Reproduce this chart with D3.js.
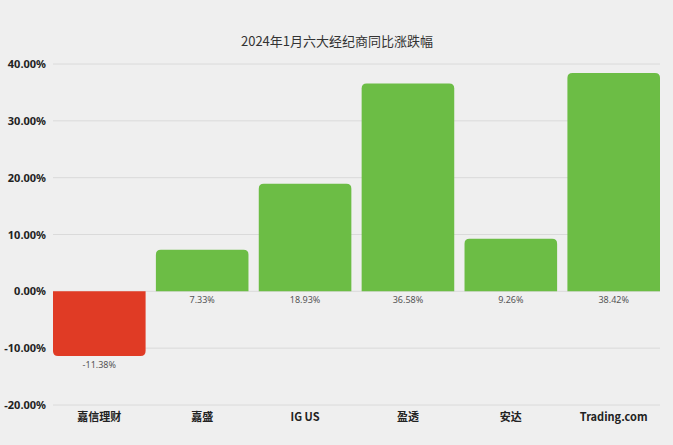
<!DOCTYPE html>
<html><head><meta charset="utf-8">
<script src="https://cdn.jsdelivr.net/npm/d3@7"></script>
<style>
html,body{margin:0;padding:0;background:#efefef;}
svg{display:block;font-family:"Noto Sans CJK SC","Noto Sans",sans-serif;}
</style></head>
<body>
<svg id="chart" width="673" height="445"></svg>
<script>
const title = "2024年1月六大经纪商同比涨跌幅";
const categories = ["嘉信理财", "嘉盛", "IG US", "盈透", "安达", "Trading.com"];
const values = [-11.38, 7.33, 18.93, 36.58, 9.26, 38.42];
const yTicks = [-20, -10, 0, 10, 20, 30, 40];

const svg = d3.select("#chart");
const W = 673, H = 445;
svg.append("rect").attr("width", W).attr("height", H).attr("fill", "#efefef");

const x = d3.scaleBand().domain(categories).range([53, 660]).paddingInner(0.1).paddingOuter(0);
const y = d3.scaleLinear().domain([-20, 40]).range([405, 64]);
const pct = d => d3.format(".2f")(d).replace("\u2212", "-") + "%";

svg.append("text").attr("x", 337).attr("y", 46).attr("text-anchor", "middle")
  .attr("font-size", 13).attr("fill", "#333").text(title);

// grid
svg.append("g").selectAll("line").data(yTicks).join("line")
  .attr("x1", 53).attr("x2", 660)
  .attr("y1", d => y(d)).attr("y2", d => y(d))
  .attr("stroke", "#dadada").attr("stroke-width", 1);

// y axis labels
const yAxis = d3.axisLeft(y).tickValues(yTicks).tickSize(0).tickPadding(0).tickFormat(pct);
const ga = svg.append("g").attr("transform", "translate(46,0)").call(yAxis);
ga.select(".domain").remove();
ga.selectAll("text").attr("font-size", 11).attr("font-weight", "bold").attr("fill", "#222")
  .attr("font-family", "'Noto Sans','Noto Sans CJK SC',sans-serif");

// bars with rounded value end
const r = 5;
function barPath(d, i) {
  const x0 = x(categories[i]), w = x.bandwidth();
  const y0 = y(0), y1 = y(d);
  const s = d >= 0 ? 1 : -1;
  return `M${x0},${y0}V${y1 + s * r}Q${x0},${y1} ${x0 + r},${y1}H${x0 + w - r}Q${x0 + w},${y1} ${x0 + w},${y1 + s * r}V${y0}Z`;
}
svg.append("g").selectAll("path").data(values).join("path")
  .attr("d", (d, i) => barPath(d, i))
  .attr("fill", d => d >= 0 ? "#6cbd45" : "#e03b25");

// value labels
svg.append("g").selectAll("text").data(values).join("text")
  .attr("x", (d, i) => x(categories[i]) + x.bandwidth() / 2)
  .attr("y", d => d >= 0 ? y(0) + 12 : y(d) + 12)
  .attr("text-anchor", "middle").attr("font-size", 9).attr("fill", "#555")
  .attr("font-family", "'Noto Sans',sans-serif")
  .text(pct);

// category labels
svg.append("g").selectAll("text").data(categories).join("text")
  .attr("x", d => x(d) + x.bandwidth() / 2)
  .attr("y", 421)
  .attr("text-anchor", "middle").attr("font-size", 11).attr("font-weight", "bold").attr("fill", "#222")
  .text(d => d);
</script>
</body></html>
